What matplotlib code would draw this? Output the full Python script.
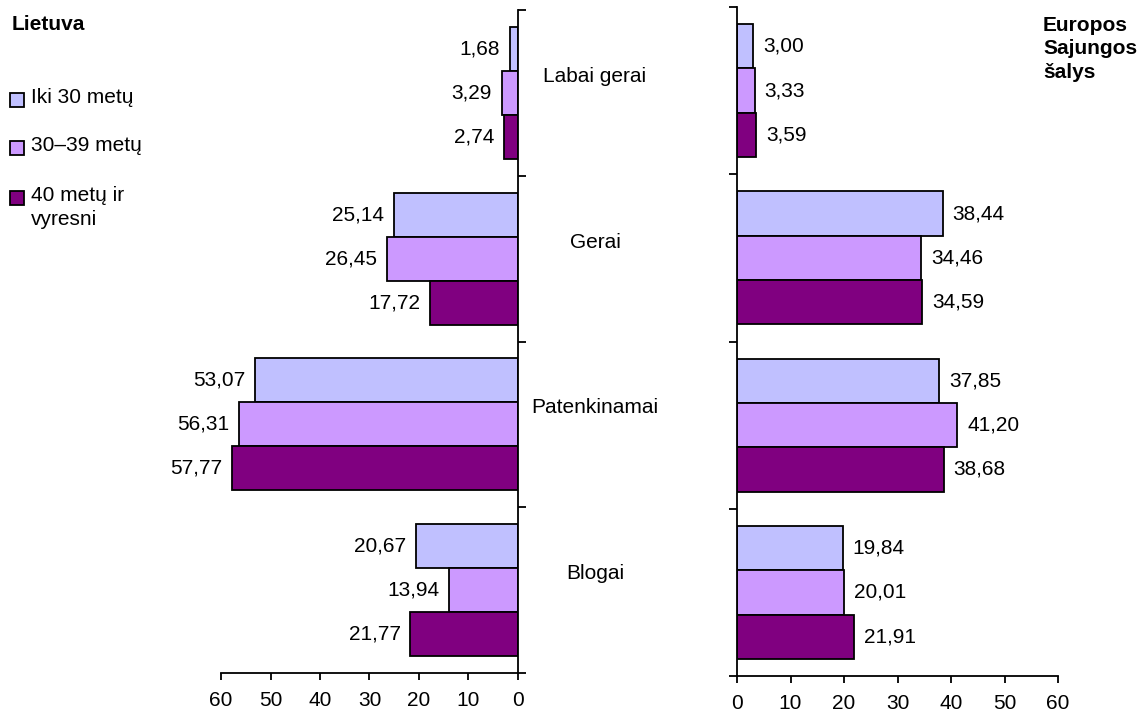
import numpy as np
from matplotlib import pyplot as plt
from matplotlib.patches import Rectangle

plt.rcParams["font.family"] = ["Liberation Sans", "DejaVu Sans"]

categories = ["Labai gerai", "Gerai", "Patenkinamai", "Blogai"]
groups = ["Iki 30 metų", "30–39 metų", "40 metų ir\nvyresni"]
colors = ["#C0C0FF", "#CC99FF", "#800080"]

# Lietuva, by age group
lt_under30 = [1.68, 25.14, 53.07, 20.67]
lt_30_39 = [3.29, 26.45, 56.31, 13.94]
lt_40plus = [2.74, 17.72, 57.77, 21.77]

# ES salys, by age group
eu_under30 = [3.00, 38.44, 37.85, 19.84]
eu_30_39 = [3.33, 34.46, 41.20, 20.01]
eu_40plus = [3.59, 34.59, 38.68, 21.91]

x_ticks = [0, 10, 20, 30, 40, 50, 60]

FS = 15


def fmt(v):
    return f"{v:.2f}".replace(".", ",")


def draw_side(ax, series, left_side):
    pos = np.arange(len(categories))
    h = 0.265
    for i, (vals, col) in enumerate(zip(series, colors)):
        y = pos + (i - 1) * h
        ax.barh(y, vals, height=h, color=col, edgecolor="black", linewidth=1.3)
        for yy, v in zip(y, vals):
            if left_side:
                ax.annotate(fmt(v), (v, yy), xytext=(-7, 0), textcoords="offset points",
                            ha="right", va="center", fontsize=FS)
            else:
                ax.annotate(fmt(v), (v, yy), xytext=(7, 0), textcoords="offset points",
                            ha="left", va="center", fontsize=FS)
    ax.set_xlim(0, 60)
    ax.set_ylim(3.5, -0.5)
    ax.set_xticks(x_ticks)
    ax.set_yticks(np.arange(-0.5, 4, 1))
    ax.set_yticklabels([])
    ax.tick_params(axis="x", labelsize=FS, length=5, width=1.3, pad=8)
    ax.tick_params(axis="y", length=6, width=1.3)
    for s in ax.spines.values():
        s.set_linewidth(1.3)
    ax.spines["top"].set_visible(False)
    if left_side:
        ax.invert_xaxis()
        ax.spines["left"].set_visible(False)
        ax.yaxis.tick_right()
    else:
        ax.spines["right"].set_visible(False)


fig = plt.figure(figsize=(11.41, 7.16), dpi=100)
ax_lt = fig.add_axes([221 / 1141, 43 / 716, 297 / 1141, 663 / 716])
ax_eu = fig.add_axes([737 / 1141, 40 / 716, 321 / 1141, 669 / 716])

draw_side(ax_lt, [lt_under30, lt_30_39, lt_40plus], True)
draw_side(ax_eu, [eu_under30, eu_30_39, eu_40plus], False)

# category names between the two panels
for i, name in enumerate(categories):
    yc = ax_lt.transData.transform((0, i - 0.1))[1]
    fig.text(595 / 1141, yc / fig.bbox.height, name, ha="center", va="center", fontsize=FS)

fig.text(12 / 1141, 1 - 25 / 716, "Lietuva", fontsize=FS, fontweight="bold", va="center")
fig.text(1043 / 1141, 1 - 16 / 716, "Europos\nSajungos\nšalys", fontsize=FS,
         fontweight="bold", va="top", linespacing=1.3)

# legend
leg_y = [100, 148, 198]
for yy, lab, col in zip(leg_y, groups, colors):
    fig.patches.append(Rectangle((10 / 1141, 1 - (yy + 7) / 716), 14 / 1141, 14 / 716,
                                 transform=fig.transFigure, facecolor=col,
                                 edgecolor="black", linewidth=1.3))
    fig.text(31 / 1141, 1 - (yy - 12) / 716, lab, fontsize=FS, va="top", linespacing=1.35)

fig.savefig("out.png", dpi=100)
